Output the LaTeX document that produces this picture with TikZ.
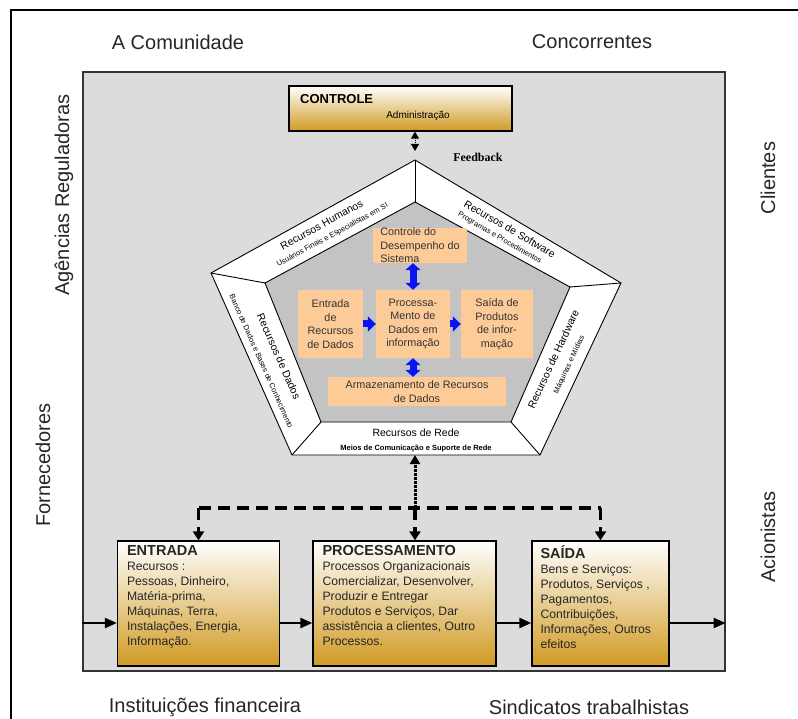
\documentclass[tikz,border=0pt]{standalone}
\usepackage{fontspec}
\setmainfont{Liberation Sans}
\newfontfamily\fbfont{Liberation Serif}
\usetikzlibrary{arrows.meta,calc}

\definecolor{sysgray}{HTML}{DCDCDC}
\definecolor{coregray}{HTML}{C3C3C3}
\definecolor{peach}{HTML}{FDCB98}
\definecolor{amber}{HTML}{D09A22}
\definecolor{flowblue}{HTML}{0A14F0}

\tikzset{
  envlabel/.style={font=\fontsize{20}{24}\selectfont, inner sep=0pt, text=black!85},
  goldbox/.style={draw=black, line width=1.3pt, top color=white, bottom color=amber, inner sep=0pt},
  boxtext/.style={font=\fontsize{12.2}{15}\selectfont, align=left, inner sep=0pt, text=black!85},
  peachbox/.style={fill=peach, inner sep=0pt, align=center, font=\fontsize{10.8}{13.5}\selectfont, text=black!80},
  bandtitle/.style={font=\fontsize{10.5}{12}\selectfont, inner sep=0pt},
  bandsub/.style={font=\fontsize{7.5}{9}\selectfont, inner sep=0pt},
  flowarrow/.style={line width=2.4pt, -{Triangle[length=12pt,width=10pt]}},
  dasharrow/.style={line width=3.5pt, dash pattern=on 12pt off 7pt, -{Triangle[length=9pt,width=11pt]}},
  dashline/.style={line width=3.5pt, dash pattern=on 12pt off 7pt},
  bluearrow/.style={line width=7pt, flowblue, -{Triangle[length=8pt,width=15pt]}},
  bluedouble/.style={line width=7pt, flowblue, {Triangle[length=7pt,width=15pt]}-{Triangle[length=7pt,width=15pt]}},
}

\begin{document}
\begin{tikzpicture}[x=1pt,y=-1pt]
\useasboundingbox (0,0) rectangle (798,719);

% outer frame
\draw[line width=2pt] (798,10) -- (11,10) -- (11,719);

% environment
\node[envlabel] (comunidade) at (178,42) {A Comunidade};
\node[envlabel] (concorrentes) at (592,42) {Concorrentes};
\node[envlabel, rotate=90] (agencias) at (64,195) {Agências Reguladoras};
\node[envlabel, rotate=90] (fornecedores) at (43,465) {Fornecedores};
\node[envlabel, rotate=90] (clientes) at (768,178) {Clientes};
\node[envlabel, rotate=90] (acionistas) at (768,537) {Acionistas};
\node[envlabel] (instituicoes) at (205,707) {Instituições financeira};
\node[envlabel] (sindicatos) at (589,707) {Sindicatos trabalhistas};

% system area
\node[draw=black!80, line width=1.2pt, fill=sysgray, minimum width=642pt, minimum height=599pt, inner sep=0pt] (sys) at (404,371.5) {};

% control box
\node[goldbox, minimum width=223pt, minimum height=45pt] (ctrl) at (400.5,108.5) {};
\node[font=\fontsize{13}{15}\bfseries, inner sep=0pt, anchor=west] (ctrlT) at (300,99) {CONTROLE};
\node[font=\fontsize{10}{12}\selectfont, inner sep=0pt] (ctrlA) at (418,116) {Administração};
\node[font=\fontsize{12}{14}\fbfont\bfseries, inner sep=0pt] (fbtext) at (478,157) {Feedback};

% pentagon of resources
\coordinate (oT) at (415,160);
\coordinate (oR) at (621,283);
\coordinate (oBR) at (540,455);
\coordinate (oBL) at (292,455);
\coordinate (oL) at (211,273);
\coordinate (iT) at (415,202);
\coordinate (iR) at (570,287);
\coordinate (iBR) at (511,422);
\coordinate (iBL) at (321,422);
\coordinate (iL) at (265,283);

\draw[line width=0.9pt, fill=white] (oT) -- (oR) -- (oBR) -- (oBL) -- (oL) -- cycle;
\draw[line width=0.9pt, fill=coregray] (iT) -- (iR) -- (iBR) -- (iBL) -- (iL) -- cycle;
\foreach \v in {T,R,BR,BL,L} \draw[line width=0.9pt] (o\v) -- (i\v);

% band midpoints
\coordinate (moTL) at ($(oL)!.5!(oT)$);   \coordinate (miTL) at ($(iL)!.5!(iT)$);
\coordinate (moTR) at ($(oT)!.5!(oR)$);   \coordinate (miTR) at ($(iT)!.5!(iR)$);
\coordinate (moR)  at ($(oR)!.5!(oBR)$);  \coordinate (miR)  at ($(iR)!.5!(iBR)$);
\coordinate (moB)  at ($(oBR)!.5!(oBL)$); \coordinate (miB)  at ($(iBR)!.5!(iBL)$);
\coordinate (moL)  at ($(oBL)!.5!(oL)$);  \coordinate (miL)  at ($(iBL)!.5!(iL)$);

\node[bandtitle, rotate=28.6] (rh) at ($(moTL)!.32!(miTL)$) {Recursos Humanos};
\node[bandsub, rotate=28.6] (rhs) at ($(moTL)!.72!(miTL)$) {Usuários Finais e Especialistas em SI};
\node[bandtitle, rotate=-30] (rs) at ($(moTR)!.32!(miTR)$) {Recursos de Software};
\node[bandsub, rotate=-30] (rss) at ($(moTR)!.72!(miTR)$) {Programas e Procedimentos};
\node[bandtitle, rotate=65] (rhw) at ($(moR)!.68!(miR)$) {Recursos de Hardware};
\node[bandsub, rotate=65] (rhws) at ($(moR)!.28!(miR)$) {Máquinas e Mídias};
\node[bandtitle] (rr) at ($(moB)!.68!(miB)$) {Recursos de Rede};
\node[bandsub, font=\fontsize{7.5}{9}\bfseries] (rrs) at ($(moB)!.2!(miB)$) {Meios de Comunicação e Suporte de Rede};
\node[bandtitle, rotate=-66] (rd) at ($(moL)!.66!(miL)$) {Recursos de Dados};
\node[bandsub, rotate=-66] (rds) at ($(moL)!.24!(miL)$) {Banco de Dados e Bases de Conhecimento};

% information system activities
\node[peachbox, minimum width=94pt, minimum height=35pt, align=left] (perf) at (420,245.5) {Controle do\\Desempenho do\\Sistema};
\node[peachbox, minimum width=65pt, minimum height=68pt] (din) at (330.5,324) {Entrada\\de\\Recursos\\de Dados};
\node[peachbox, minimum width=74pt, minimum height=68pt] (dproc) at (413,324) {Processa-\\Mento de\\Dados em\\informação};
\node[peachbox, minimum width=72pt, minimum height=68pt] (dout) at (497,324) {Saída de\\Produtos\\de infor-\\mação};
\node[peachbox, minimum width=178pt, minimum height=29pt] (dstore) at (417,391.5) {Armazenamento de Recursos\\de Dados};

\draw[bluearrow] (din.east) -- (dproc.west);
\draw[bluearrow] (dproc.east) -- (dout.west);
\draw[bluedouble] (dproc.north) -- (dproc.north |- perf.south);
\draw[bluedouble] (dproc.south) -- (dproc.south |- dstore.north);

% feedback to control
\coordinate (fbtop) at (415,151);
\draw[line width=1pt, densely dotted, {Triangle[length=7pt,width=8pt]}-{Triangle[length=7pt,width=8pt]}] (ctrl.south -| fbtop) -- (fbtop);

% input / processing / output
\node[goldbox, minimum width=162pt, minimum height=125pt] (ent) at (198.5,603.5) {};
\node[goldbox, minimum width=183pt, minimum height=125pt] (pro) at (404.5,603.5) {};
\node[goldbox, minimum width=137pt, minimum height=125pt] (sai) at (600.5,603.5) {};

\node[boxtext, anchor=north west] (entT) at ([xshift=10pt,yshift=-5pt]ent.north west)
  {{\fontsize{14.5}{15}\bfseries ENTRADA}\\Recursos :\\Pessoas, Dinheiro,\\Matéria-prima,\\Máquinas, Terra,\\Instalações, Energia,\\Informação.};
\node[boxtext, anchor=north west] (proT) at ([xshift=10pt,yshift=-5pt]pro.north west)
  {{\fontsize{14.5}{15}\bfseries PROCESSAMENTO}\\Processos Organizacionais\\Comercializar, Desenvolver,\\Produzir e Entregar\\Produtos e Serviços, Dar\\assistência a clientes, Outro\\Processos.};
\node[boxtext, anchor=north west] (saiT) at ([xshift=9pt,yshift=-5pt]sai.north west)
  {{\fontsize{14.5}{15}\bfseries SAÍDA}\\Bens e Serviços:\\Produtos, Serviços ,\\Pagamentos,\\Contribuições,\\Informações, Outros\\efeitos};

% horizontal flow
\coordinate (flowIn) at (sys.west |- 0,623);
\coordinate (flowOut) at (sys.east |- 0,623);
\draw[flowarrow] (flowIn) -- (flowIn -| ent.west);
\draw[flowarrow] (ent.east |- flowIn) -- (pro.west |- flowIn);
\draw[flowarrow] (pro.east |- flowIn) -- (sai.west |- flowIn);
\draw[flowarrow] (sai.east |- flowIn) -- (flowOut);

% feedback distribution
\coordinate (penBot) at ($(oBL)!.5!(oBR)$);
\coordinate (fbj) at (415,508);
\draw[line width=3pt, densely dotted, -{Triangle[length=9pt,width=10pt]}] (fbj) -- (fbj |- penBot);
\draw[dashline] (ent.north |- fbj) -- (sai.north |- fbj);
\draw[dasharrow] (ent.north |- fbj) -- (ent.north);
\draw[dasharrow] (fbj) -- (fbj |- pro.north);
\draw[dasharrow] (sai.north |- fbj) -- (sai.north);
\end{tikzpicture}
\end{document}
